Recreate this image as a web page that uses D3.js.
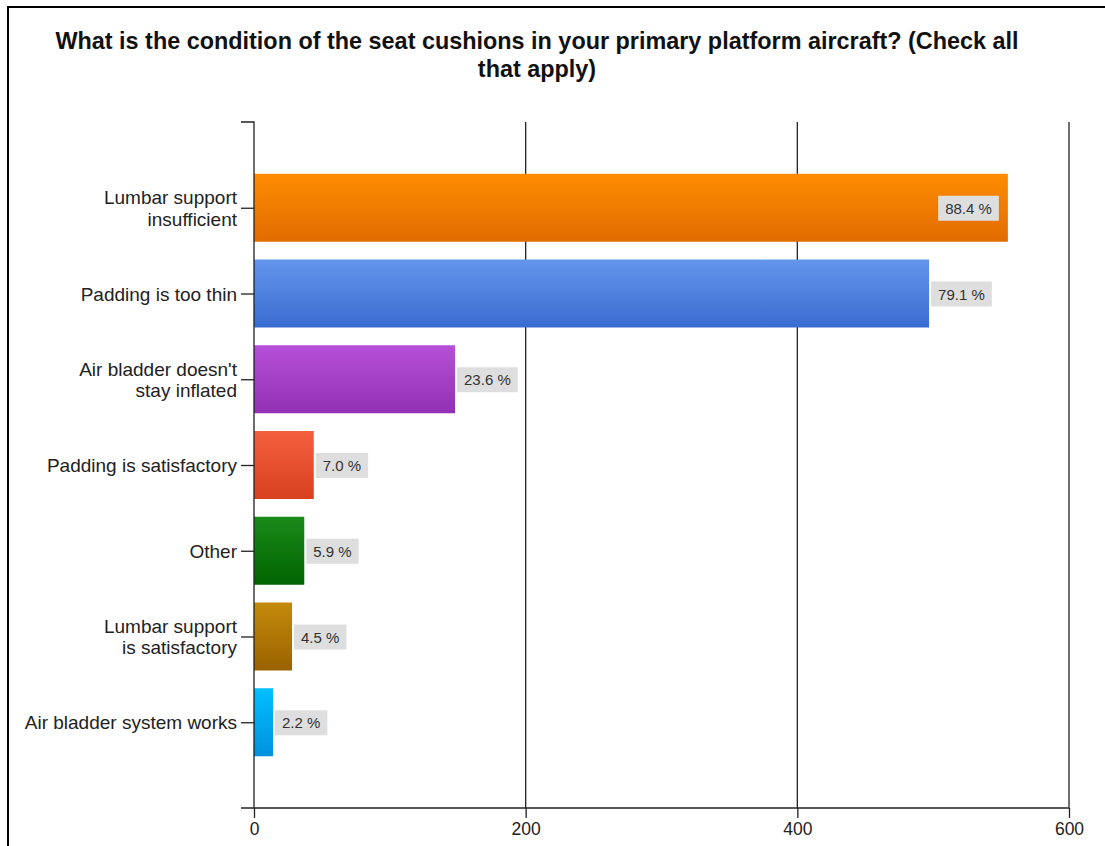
<!DOCTYPE html>
<html><head><meta charset="utf-8">
<script src="https://cdn.jsdelivr.net/npm/d3@7"></script>
<style>body{margin:0;background:#fff;} svg{display:block;}</style>
</head><body>
<svg id="chart" width="1105" height="846"></svg>
<script>
const titleLines = ["What is the condition of the seat cushions in your primary platform aircraft? (Check all", "that apply)"];
const categories = [["Lumbar support","insufficient"],["Padding is too thin"],["Air bladder doesn't","stay inflated"],["Padding is satisfactory"],["Other"],["Lumbar support","is satisfactory"],["Air bladder system works"]];
const values = [555, 497, 148, 44, 37, 28, 14];
const percents = ["88.4 %","79.1 %","23.6 %","7.0 %","5.9 %","4.5 %","2.2 %"];
const xTicks = [0, 200, 400, 600];
const colorsTop = ["#ff8c00","#6395ec","#b650d8","#f4603e","#1a8a1a","#c48a0c","#00bfff"];
const colorsBot = ["#e06c00","#3a6cd0","#9230b4","#d8401e","#006400","#9a6200","#0092de"];

const FONT = "Liberation Sans, Arial, sans-serif";
const svg = d3.select("#chart");
const margin = {left:254, right:1069, top:122, bottom:808};
const x = d3.scaleLinear().domain([0,600]).range([margin.left, margin.right]);
const y = d3.scalePoint().domain(d3.range(categories.length)).range([margin.top, margin.bottom]).padding(1);
const barH = 68;

// border
svg.append("path").attr("d","M8,846 V7 H1105").attr("fill","none").attr("stroke","#000").attr("stroke-width",2);

// title
const title = svg.append("text").attr("text-anchor","middle").attr("font-family",FONT)
  .attr("font-weight","bold").attr("font-size",23.4).attr("fill","#111");
titleLines.forEach((t,i)=>title.append("tspan").attr("x",537).attr("y",49+i*28).text(t));

// defs gradients
const defs = svg.append("defs");
values.forEach((v,i)=>{
  const g = defs.append("linearGradient").attr("id","g"+i).attr("x1",0).attr("x2",0).attr("y1",0).attr("y2",1);
  g.append("stop").attr("offset","0%").attr("stop-color",colorsTop[i]);
  g.append("stop").attr("offset","100%").attr("stop-color",colorsBot[i]);
});

// gridlines
svg.append("g").selectAll("line").data(xTicks.slice(1)).join("line")
  .attr("x1",d=>x(d)).attr("x2",d=>x(d)).attr("y1",margin.top).attr("y2",margin.bottom)
  .attr("stroke","#222").attr("stroke-width",1.3);

// bars
svg.append("g").selectAll("rect").data(values).join("rect")
  .attr("x",x(0)).attr("y",(d,i)=>y(i)-barH/2).attr("width",d=>x(d)-x(0)).attr("height",barH)
  .attr("fill",(d,i)=>`url(#g${i})`);

// x axis
const xAxis = d3.axisBottom(x).tickValues(xTicks).tickSize(10).tickPadding(5).tickSizeOuter(0);
const gx = svg.append("g").attr("transform",`translate(0,${margin.bottom})`).call(xAxis);
gx.select(".domain").attr("d",`M${margin.left-13},0H${margin.right}`).attr("stroke","#222").attr("stroke-width",1.3);
gx.selectAll(".tick line").attr("stroke","#222").attr("stroke-width",1.3);
gx.selectAll(".tick text").attr("font-family",FONT).attr("font-size",17.5).attr("fill","#222");

// y axis
const yAxis = d3.axisLeft(y).tickSize(13).tickFormat("").tickSizeOuter(0);
const gy = svg.append("g").attr("transform",`translate(${margin.left},0)`).call(yAxis);
gy.select(".domain").attr("d",`M-13,${margin.top}H0V${margin.bottom}`).attr("stroke","#222").attr("stroke-width",1.3);
gy.selectAll(".tick line").attr("stroke","#222").attr("stroke-width",1.3);

// category labels
const cl = svg.append("g").attr("font-family",FONT).attr("font-size",19).attr("fill","#222").attr("text-anchor","end");
categories.forEach((lines,i)=>{
  const t = cl.append("text");
  const n = lines.length;
  lines.forEach((s,j)=>t.append("tspan").attr("x",237).attr("y",y(i)+7+(j-(n-1)/2)*21.5).text(s));
});

// value labels
const vl = svg.append("g");
values.forEach((v,i)=>{
  const g = vl.append("g");
  const t = g.append("text").attr("font-family",FONT).attr("font-size",15).attr("fill","#333").text(percents[i]);
  const w = t.node().getComputedTextLength() + 14;
  let bx = x(v) + 2;
  if (bx + w > x(600) - 10) bx = x(v) - w - 9;
  g.insert("rect","text").attr("x",bx).attr("y",y(i)-12).attr("width",w).attr("height",25).attr("fill","#dedede");
  t.attr("x",bx+7).attr("y",y(i)+6);
});
</script>
</body></html>
